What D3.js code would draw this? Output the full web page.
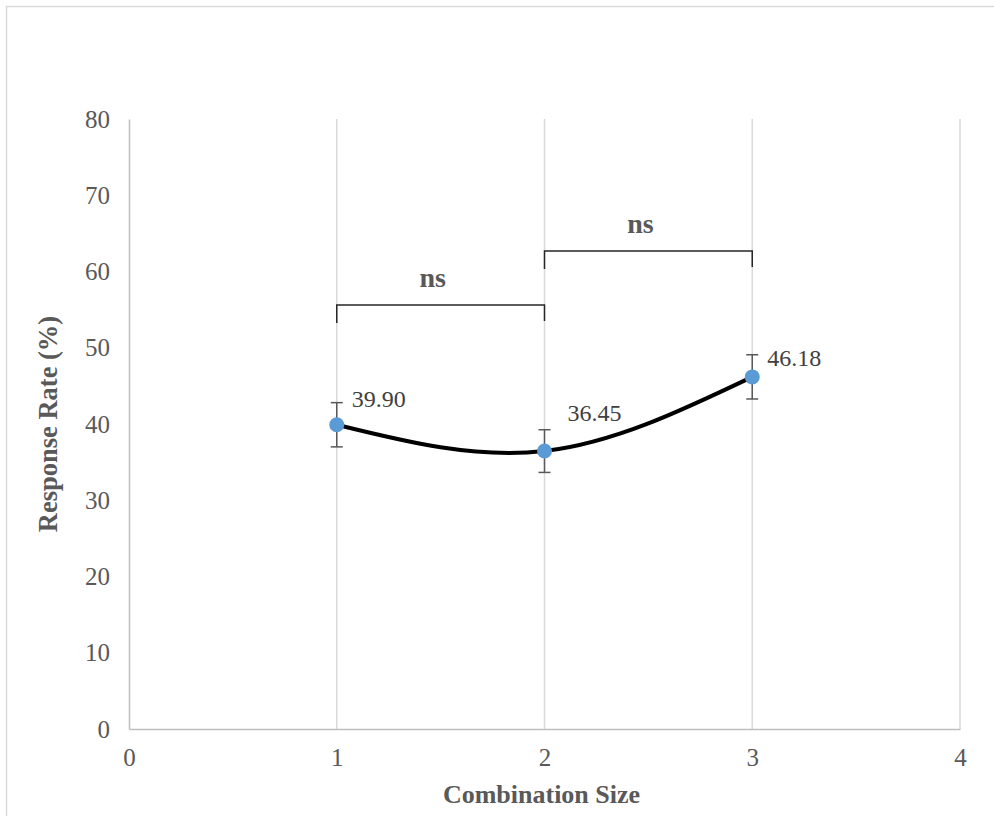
<!DOCTYPE html>
<html>
<head>
<meta charset="utf-8">
<script src="https://cdn.jsdelivr.net/npm/d3@7"></script>
<style>
  body { margin: 0; background: #ffffff; }
  svg { display: block; }
</style>
</head>
<body>
<svg id="canvas"></svg>
<script>
// data
let sizes = [1, 2, 3];
let rates = [39.90, 36.45, 46.18];
let errors = [2.9, 2.8, 2.9];
let rateLabels = ["39.90", "36.45", "46.18"];

let xTicks = [0, 1, 2, 3, 4];
let yTicks = [0, 10, 20, 30, 40, 50, 60, 70, 80];

// significance brackets
let bracketFrom = [1, 2];
let bracketTo = [2, 3];
let bracketLevel = [55.6, 62.7];
let bracketText = ["ns", "ns"];

let width = 994;
let height = 816;
let serif = "'Liberation Serif', 'Times New Roman', serif";

let canvas = d3.select("#canvas");
canvas.attr("width", width);
canvas.attr("height", height);

let xScale;
let yScale;

let generateScales = () => {
    xScale = d3.scaleLinear()
                .domain([0, 4])
                .range([129, 960]);

    yScale = d3.scaleLinear()
                .domain([0, 80])
                .range([729, 119]);
}

let drawFrame = () => {
    canvas.append("rect")
          .attr("x", 6.5)
          .attr("y", 6.5)
          .attr("width", width)
          .attr("height", height)
          .attr("fill", "none")
          .attr("stroke", "#d9d9d9")
          .attr("stroke-width", 1.5);
}

let drawAxes = () => {
    // vertical gridlines
    canvas.append("g")
          .selectAll("line")
          .data(xTicks.filter(d => d > 0))
          .enter()
          .append("line")
          .attr("x1", d => xScale(d))
          .attr("x2", d => xScale(d))
          .attr("y1", yScale(80))
          .attr("y2", yScale(0))
          .attr("stroke", "#d9d9d9")
          .attr("stroke-width", 1.5);

    let xAxis = d3.axisBottom(xScale)
                  .tickValues(xTicks)
                  .tickSize(0)
                  .tickPadding(19)
                  .tickFormat(d3.format("d"));

    let gx = canvas.append("g")
          .attr("id", "x-axis")
          .attr("transform", "translate(0," + yScale(0) + ")")
          .call(xAxis);

    let yAxis = d3.axisLeft(yScale)
                  .tickValues(yTicks)
                  .tickSize(0)
                  .tickPadding(19)
                  .tickFormat(d3.format("d"));

    let gy = canvas.append("g")
          .attr("id", "y-axis")
          .attr("transform", "translate(" + xScale(0) + ",0)")
          .call(yAxis);

    [gx, gy].forEach(g => {
        g.attr("font-family", serif);
        g.select(".domain").attr("stroke", "#bfbfbf").attr("stroke-width", 1.5);
        g.selectAll("text")
         .attr("fill", "#595959")
         .style("font-size", "25px");
    });

    canvas.append("text")
          .attr("x", xScale(2) - 3)
          .attr("y", 803)
          .attr("text-anchor", "middle")
          .attr("fill", "#595959")
          .style("font-family", serif)
          .style("font-size", "26px")
          .style("font-weight", "bold")
          .text("Combination Size");

    canvas.append("text")
          .attr("transform", "translate(57,424) rotate(-90)")
          .attr("text-anchor", "middle")
          .attr("fill", "#595959")
          .style("font-family", serif)
          .style("font-size", "26.5px")
          .style("font-weight", "bold")
          .text("Response Rate (%)");
}

let drawSeries = () => {
    let points = sizes.map((s, i) => [s, rates[i]]);

    // error bars
    let bars = canvas.append("g").attr("stroke", "#595959").attr("stroke-width", 1.5);
    points.forEach((p, i) => {
        let x = xScale(p[0]);
        let top = yScale(p[1] + errors[i]);
        let bottom = yScale(p[1] - errors[i]);
        bars.append("line").attr("x1", x).attr("x2", x).attr("y1", top).attr("y2", bottom);
        bars.append("line").attr("x1", x - 6).attr("x2", x + 6).attr("y1", top).attr("y2", top);
        bars.append("line").attr("x1", x - 6).attr("x2", x + 6).attr("y1", bottom).attr("y2", bottom);
    });

    let line = d3.line()
                 .x(d => xScale(d[0]))
                 .y(d => yScale(d[1]))
                 .curve(d3.curveNatural);

    canvas.append("path")
          .datum(points)
          .attr("d", line)
          .attr("fill", "none")
          .attr("stroke", "#000000")
          .attr("stroke-width", 4);

    canvas.selectAll("circle")
          .data(points)
          .enter()
          .append("circle")
          .attr("cx", d => xScale(d[0]))
          .attr("cy", d => yScale(d[1]))
          .attr("r", 7.5)
          .attr("fill", "#5b9bd5");

    // label nudges, as placed in the original
    let labelDx = [15, 23, 15];
    let labelDy = [-18, -30, -11];

    canvas.selectAll(".value-label")
          .data(points)
          .enter()
          .append("text")
          .attr("class", "value-label")
          .attr("x", (d, i) => xScale(d[0]) + labelDx[i])
          .attr("y", (d, i) => yScale(d[1]) + labelDy[i])
          .attr("fill", "#404040")
          .style("font-family", serif)
          .style("font-size", "24px")
          .text((d, i) => rateLabels[i]);
}

let drawBrackets = () => {
    let g = canvas.append("g");
    bracketFrom.forEach((from, i) => {
        let x1 = xScale(from);
        let x2 = xScale(bracketTo[i]);
        let y = yScale(bracketLevel[i]);
        g.append("path")
         .attr("d", "M" + x1 + "," + (y + 18) + "V" + y + "H" + x2 + "V" + (y + 16))
         .attr("fill", "none")
         .attr("stroke", "#262626")
         .attr("stroke-width", 1.5);
        g.append("text")
         .attr("x", (x1 + x2) / 2 - 8)
         .attr("y", y - 18)
         .attr("text-anchor", "middle")
         .attr("fill", "#595959")
         .style("font-family", serif)
         .style("font-size", "28px")
         .style("font-weight", "bold")
         .text(bracketText[i]);
    });
}

generateScales();
drawFrame();
drawAxes();
drawBrackets();
drawSeries();
</script>
</body>
</html>
